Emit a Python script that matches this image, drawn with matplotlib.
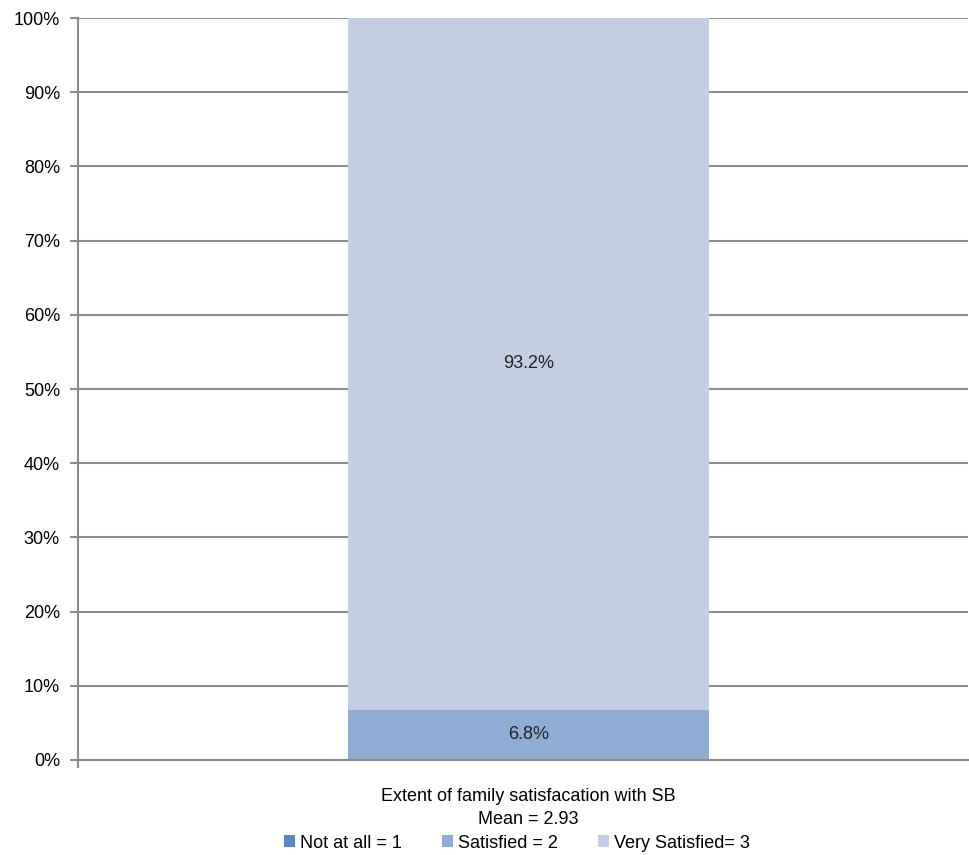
import matplotlib.pyplot as plt
from matplotlib.patches import Patch
from matplotlib.ticker import PercentFormatter

# data
category = "Extent of family satisfacation with SB"
mean_text = "Mean = 2.93"
series_names = ["Not at all = 1", "Satisfied = 2", "Very Satisfied= 3"]
values = [0.0, 6.8, 93.2]
colors = ["#5A87C0", "#8FACD2", "#C3CEE3"]
yticks = [0, 10, 20, 30, 40, 50, 60, 70, 80, 90, 100]

plt.rcParams['font.family'] = ['Liberation Sans', 'DejaVu Sans']

fig = plt.figure(figsize=(9.69, 8.55), dpi=100)
ax = fig.add_axes([78/969, 1 - 760/855, 890/969, 742/855])

# stacked bar
bottom = 0
for name, v, c in zip(series_names, values, colors):
    ax.bar(0.012, v, width=0.811, bottom=bottom, color=c, label=name, zorder=2)
    if v > 0:
        ax.text(0.012, bottom + v / 2, f"{v:.1f}%", ha="center", va="center",
                fontsize=13, color="#222222", zorder=3)
    bottom += v

ax.set_xlim(-1, 1)
ax.set_ylim(0, 100)
ax.set_yticks(yticks)
ax.yaxis.set_major_formatter(PercentFormatter(decimals=0))
ax.set_xticks([-1])
ax.set_xticklabels([""])
ax.tick_params(axis="y", length=6, width=1.5, color="#8c8c8c", labelsize=13, pad=7)
ax.tick_params(axis="x", length=6, width=1.5, color="#8c8c8c")
ax.grid(axis="y", color="#8c8c8c", linewidth=1.5, zorder=1)

for s in ["top", "right"]:
    ax.spines[s].set_visible(False)
for s in ["left", "bottom"]:
    ax.spines[s].set_color("#8c8c8c")
    ax.spines[s].set_linewidth(1.5)

fig.text(528/969, 1 - 796/855, category, ha="center", va="center", fontsize=13)
fig.text(528/969, 1 - 819/855, mean_text, ha="center", va="center", fontsize=13)

handles = [Patch(facecolor=c, label=n) for n, c in zip(series_names, colors)]
fig.legend(handles=handles, loc="center", bbox_to_anchor=(517/969, 1 - 843/855),
           ncol=3, frameon=False, fontsize=13, handlelength=0.6, handleheight=0.6,
           handletextpad=0.3, columnspacing=2.2, borderpad=0)

fig.savefig("out.png", dpi=100)
